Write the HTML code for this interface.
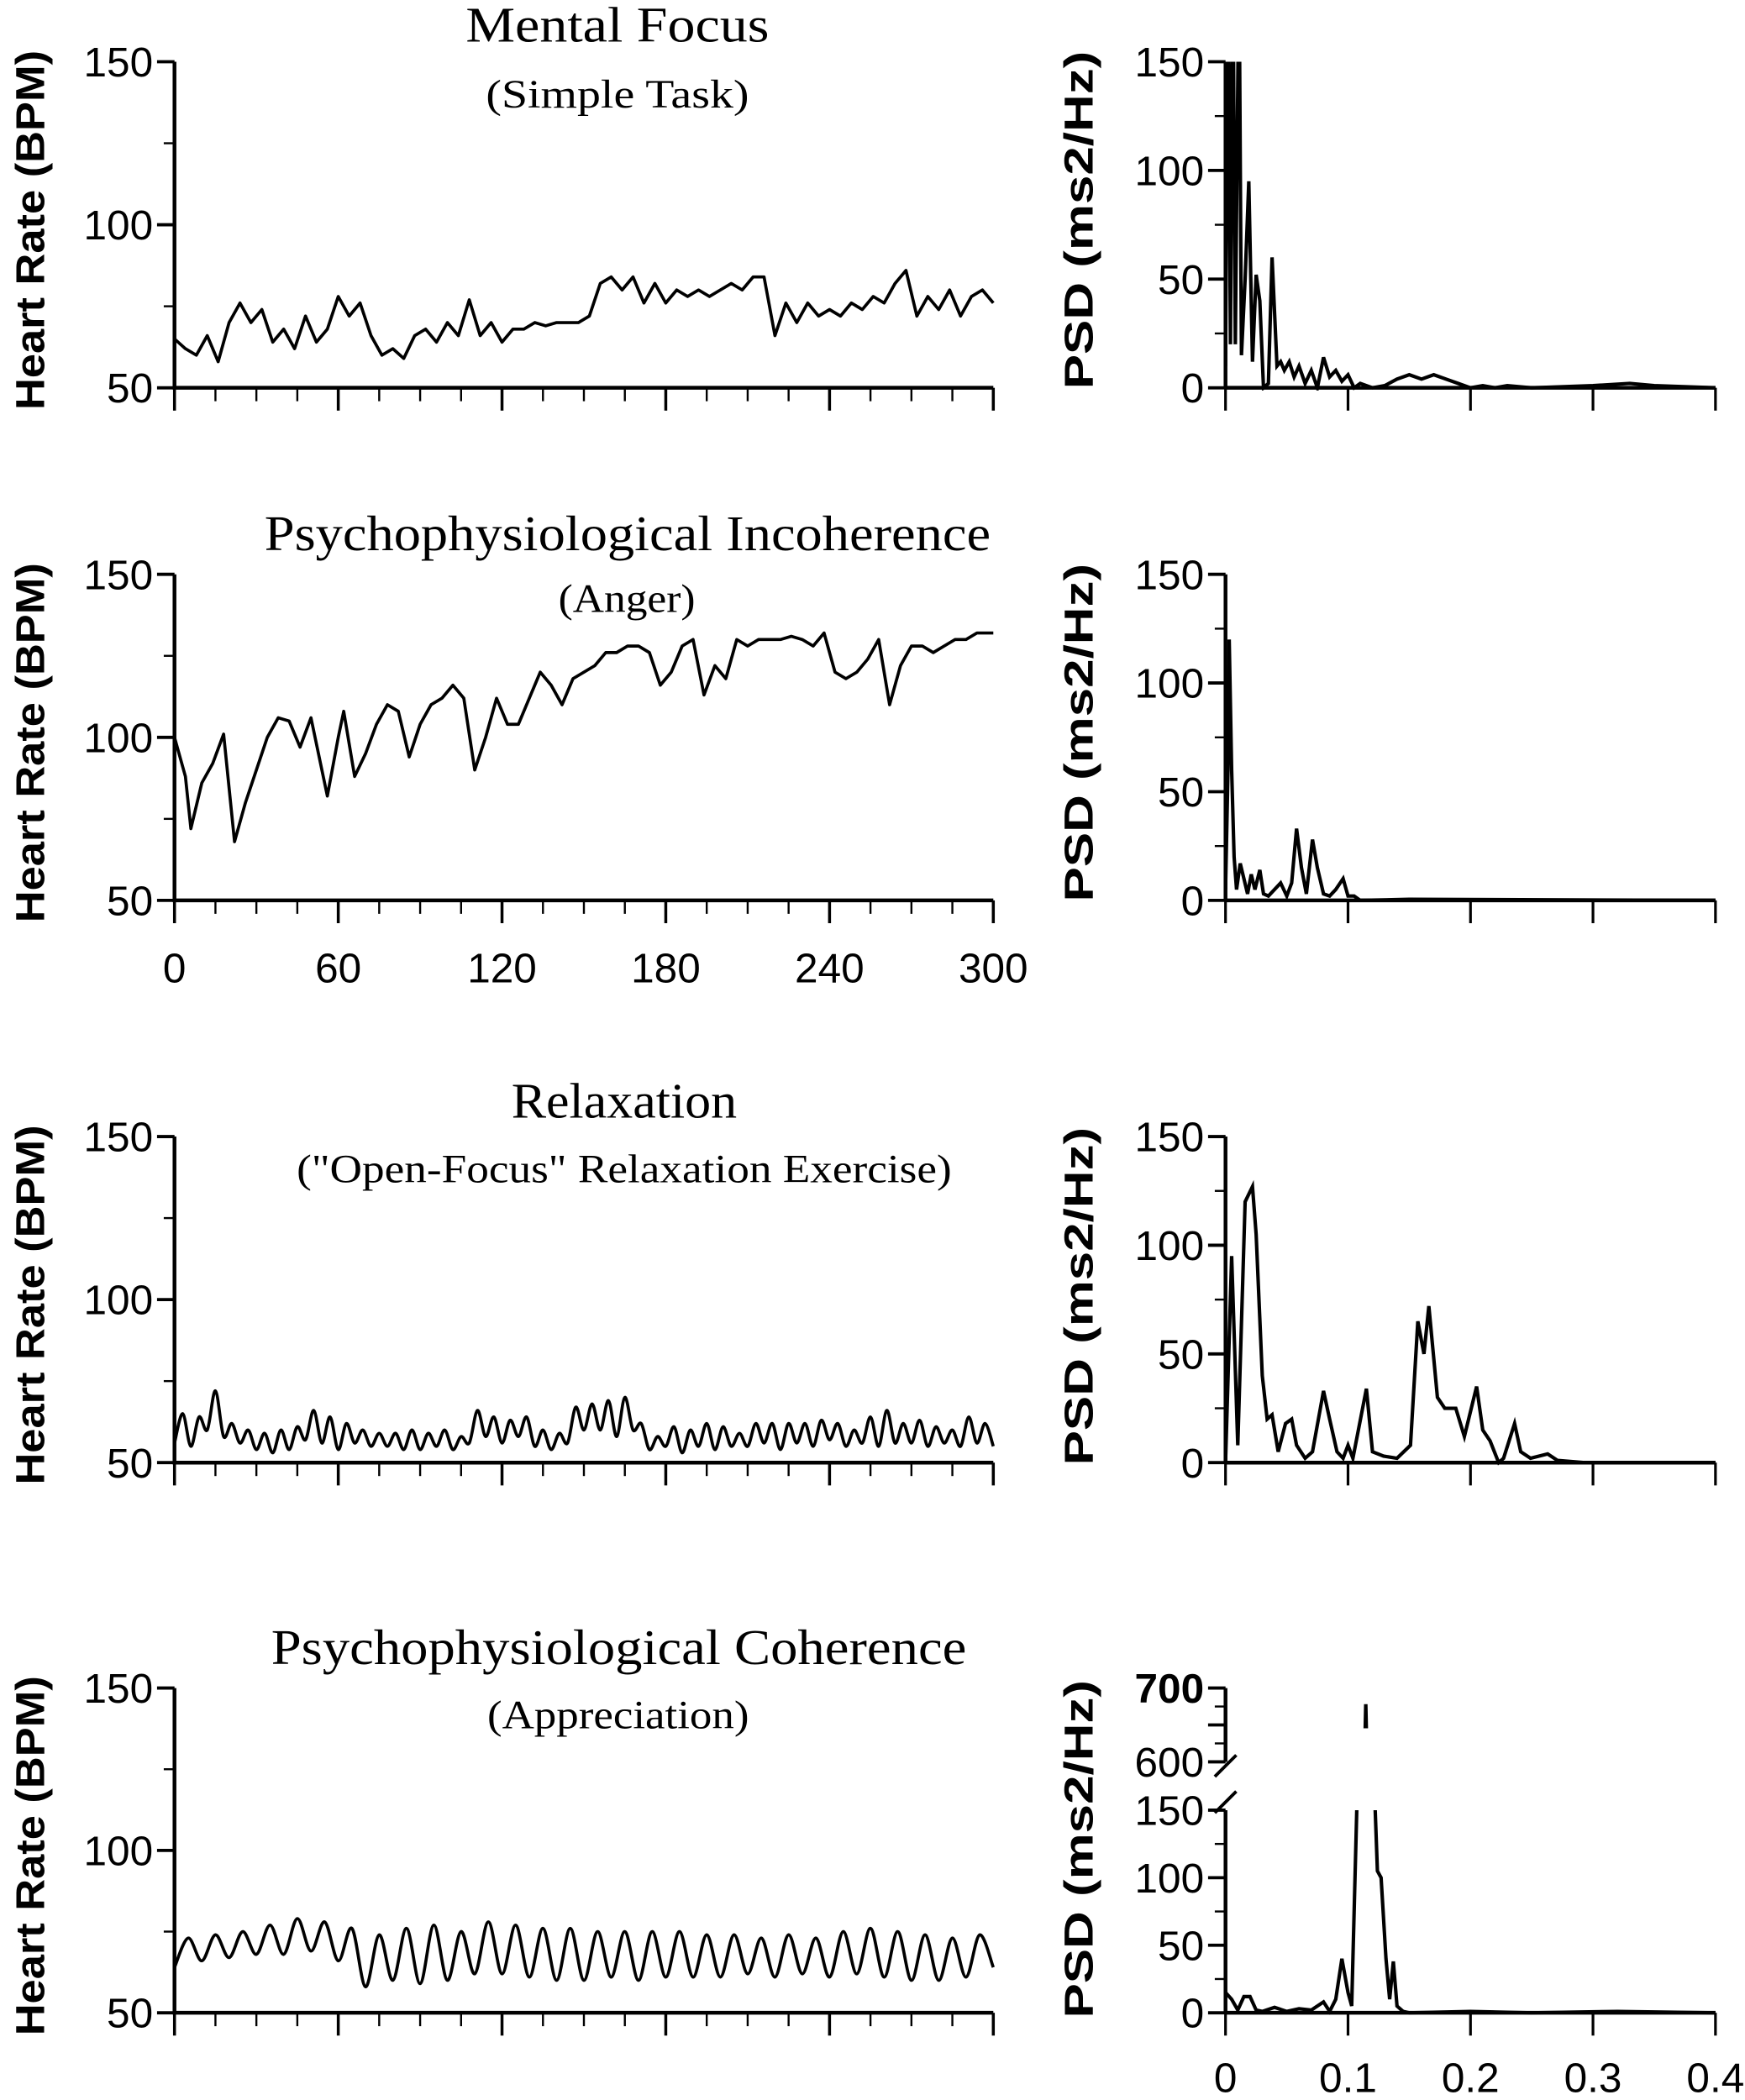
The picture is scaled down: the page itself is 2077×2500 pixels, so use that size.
<!DOCTYPE html>
<html><head><meta charset="utf-8"><style>
html,body{margin:0;padding:0;background:#fff;}
svg{display:block;}
</style></head><body>
<svg id="fig" xmlns="http://www.w3.org/2000/svg" width="2077" height="2500" viewBox="0 0 1300 1565" preserveAspectRatio="none">
<rect x="0" y="0" width="1300" height="1565" fill="#fff"/>
</svg>
<script>
// ---------- DATA ----------
const hrTicks = [50, 100, 150];
const timeTickLabels = ["0", "60", "120", "180", "240", "300"];
const psdTicks = [0, 50, 100, 150];
const freqTickLabels = ["0", "0.1", "0.2", "0.3", "0.4"];
const upperTicks = [600, 700];

const hrFocusTimes = [0,4,8,12,16,20,24,28,32,36,40,44,48,52,56,60,64,68,72,76,80,84,88,92,96,100,104,108,112,116,120,124,128,132,136,140,144,148,152,156,160,164,168,172,176,180,184,188,192,196,200,204,208,212,216,220,224,228,232,236,240,244,248,252,256,260,264,268,272,276,280,284,288,292,296,300];
const hrFocus = [65,62,60,66,58,70,76,70,74,64,68,62,72,64,68,78,72,76,66,60,62,59,66,68,64,70,66,77,66,70,64,68,68,70,69,70,70,70,72,82,84,80,84,76,82,76,80,78,80,78,80,82,80,84,84,66,76,70,76,72,74,72,76,74,78,76,82,86,72,78,74,80,72,78,80,76];

const hrAngerTimes = [0,4,6,10,14,18,22,26,30,34,38,42,46,50,54,56,60,62,66,70,74,78,82,86,90,94,98,102,106,110,114,118,122,126,130,134,138,142,146,150,154,158,162,166,170,174,178,182,186,190,194,198,202,206,210,214,218,222,226,230,234,238,242,246,250,254,258,262,266,270,274,278,282,286,290,294,298,300];
const hrAnger = [100,88,72,86,92,101,68,80,90,100,106,105,97,106,90,82,100,108,88,95,104,110,108,94,104,110,112,116,112,90,100,112,104,104,112,120,116,110,118,120,122,126,126,128,128,126,116,120,128,130,113,122,118,130,128,130,130,130,131,130,128,132,120,118,120,124,130,110,122,128,128,126,128,130,130,132,132,132];

const hrRelax = [56,65,55,64,60,72,58,62,56,60,54,59,53,60,54,61,57,66,56,64,54,62,56,60,55,59,55,59,54,60,54,59,55,60,54,58,56,66,58,64,56,63,58,64,55,60,54,59,56,67,60,68,60,69,58,70,60,62,54,58,55,61,53,60,55,62,54,61,55,59,55,62,56,62,54,62,56,62,55,63,57,62,55,60,56,64,55,66,56,62,56,63,55,61,56,60,55,64,56,62,55];

const hrCoh = [64,73,66,74,67,75,68,77,68,79,69,78,66,76,58,74,60,76,59,77,60,75,62,78,62,77,61,76,60,76,60,75,61,75,60,75,61,75,61,74,61,74,62,73,61,74,62,73,61,75,62,76,61,75,60,74,60,73,61,74,64];

const psdFocusF = [0,0.002,0.004,0.006,0.008,0.011,0.013,0.016,0.019,0.022,0.025,0.028,0.031,0.035,0.038,0.042,0.045,0.048,0.052,0.056,0.06,0.065,0.07,0.075,0.08,0.085,0.09,0.095,0.1,0.105,0.11,0.12,0.13,0.14,0.15,0.16,0.17,0.18,0.19,0.2,0.21,0.22,0.23,0.25,0.3,0.33,0.35,0.4];
const psdFocus = [10,200,20,200,20,200,15,50,95,12,52,40,0,2,60,10,12,8,12,5,10,2,8,0,14,5,8,3,6,0,2,0,1,4,6,4,6,4,2,0,1,0,1,0,1,2,1,0];

const psdAngerF = [0,0.002,0.003,0.005,0.007,0.009,0.012,0.015,0.018,0.021,0.024,0.028,0.031,0.035,0.04,0.045,0.05,0.054,0.058,0.062,0.066,0.071,0.075,0.08,0.085,0.09,0.096,0.1,0.105,0.11,0.15,0.4];
const psdAnger = [5,60,120,60,20,5,17,10,3,12,5,14,3,2,5,8,2,8,33,15,3,28,15,3,2,5,10,2,2,0,0.5,0];

const psdRelaxF = [0,0.005,0.01,0.016,0.022,0.025,0.03,0.034,0.038,0.043,0.049,0.054,0.058,0.065,0.071,0.08,0.085,0.091,0.096,0.1,0.104,0.115,0.12,0.129,0.14,0.151,0.157,0.162,0.166,0.173,0.179,0.188,0.195,0.205,0.21,0.216,0.223,0.227,0.236,0.241,0.249,0.263,0.271,0.293,0.4];
const psdRelax = [0,95,8,120,127,105,40,20,22,5,18,20,8,2,5,33,20,5,2,8,2,34,5,3,2,8,65,50,72,30,25,25,12,35,15,10,0,2,18,5,2,4,1,0,0];

const psdCohF = [0,0.005,0.01,0.015,0.02,0.025,0.03,0.04,0.05,0.06,0.07,0.08,0.085,0.09,0.095,0.1,0.103,0.108,0.1145,0.121,0.124,0.127,0.131,0.134,0.137,0.14,0.145,0.15,0.2,0.25,0.32,0.4];
const psdCoh = [15,10,2,12,12,2,1,4,1,3,2,8,1,10,40,15,5,180,680,180,105,100,40,10,38,5,1,0,1,0,1,0];

// ---------- LAYOUT ----------
const svg = document.getElementById('fig');
const NS = 'http://www.w3.org/2000/svg';
const LX0 = 130, LX1 = 740;
const RX0 = 913, RX1 = 1278;
const rows = [{top:46,bot:289},{top:428,bot:671},{top:847,bot:1090},{top:1258,bot:1500}];
const TICKFONT = 31;

function el(tag, attrs, parent){
  const e = document.createElementNS(NS, tag);
  for (const k in attrs) e.setAttribute(k, attrs[k]);
  (parent||svg).appendChild(e);
  return e;
}
function txt(s, attrs, parent){ const t = el('text', attrs, parent); t.textContent = s; return t; }

const xTime = t => LX0 + (t/300)*(LX1-LX0);
const xFreq = f => RX0 + (f/0.4)*(RX1-RX0);
function yHR(r){ return v => rows[r].bot - (v-50)/100*(rows[r].bot-rows[r].top); }
function yPSD(r, top){ const t = top===undefined?rows[r].top:top; return v => rows[r].bot - v/150*(rows[r].bot-t); }

function catmull(pts){
  let d = 'M'+pts[0][0].toFixed(2)+','+pts[0][1].toFixed(2);
  for (let i=0;i<pts.length-1;i++){
    const p0=pts[Math.max(0,i-1)],p1=pts[i],p2=pts[i+1],p3=pts[Math.min(pts.length-1,i+2)];
    const c1=[p1[0]+(p2[0]-p0[0])/6,p1[1]+(p2[1]-p0[1])/6];
    const c2=[p2[0]-(p3[0]-p1[0])/6,p2[1]-(p3[1]-p1[1])/6];
    d+=' C'+c1[0].toFixed(2)+','+c1[1].toFixed(2)+' '+c2[0].toFixed(2)+','+c2[1].toFixed(2)+' '+p2[0].toFixed(2)+','+p2[1].toFixed(2);
  }
  return d;
}

const defs = el('defs', {});

function leftAxes(r, g, showLabels){
  const yb = rows[r].bot, yt = rows[r].top, ys = yHR(r);
  const ax = el('path', {d:`M${LX0},${yt} L${LX0},${yb} L${LX1},${yb}`, fill:'none', stroke:'#000', 'stroke-width':2.8}, g);
   
  for (let v=50; v<=150; v+=25){
    const major = (v%50===0);
    const tk = el('line',{x1:LX0-(major?13:8),x2:LX0,y1:ys(v),y2:ys(v),stroke:'#000','stroke-width':major?2.4:1.5}, g);
     
  }
  hrTicks.forEach(v=>{
    const t = txt(String(v),{x:114,y:ys(v)+11,'font-family':'Liberation Sans, sans-serif','font-size':TICKFONT,'text-anchor':'end',fill:'#000'}, g);
     
  });
  for (let t=0; t<=300; t+=15){
    const major = (t%60===0);
    const tk = el('line',{x1:xTime(t),x2:xTime(t),y1:yb,y2:yb+(major?17:10),stroke:'#000','stroke-width':major?2.2:1.5}, g);
     
  }
  if (showLabels){
    timeTickLabels.forEach((s,i)=>{
      const t = txt(s,{x:xTime(i*60),y:yb+61,'font-family':'Liberation Sans, sans-serif','font-size':TICKFONT,'text-anchor':'middle',fill:'#000'}, g);
       
    });
  }
  const cy = (yt+yb)/2+4;
  const yl = txt('Heart Rate (BPM)',{x:0,y:0,transform:`translate(33,${cy}) rotate(-90)`,'font-family':'Liberation Sans, sans-serif','font-size':30,'font-weight':'bold','text-anchor':'middle',textLength:268,lengthAdjust:'spacingAndGlyphs',fill:'#000'}, g);
   
}

function rightXAxis(r, g, showLabels){
  const yb = rows[r].bot;
  const ax = el('line',{x1:RX0,x2:RX1,y1:yb,y2:yb,stroke:'#000','stroke-width':2.8}, g);
   
  for (let i=0;i<=4;i++){
    const tk = el('line',{x1:xFreq(i*0.1),x2:xFreq(i*0.1),y1:yb,y2:yb+17,stroke:'#000','stroke-width':2}, g);
     
  }
  if (showLabels){
    freqTickLabels.forEach((s,i)=>{
      const t = txt(s,{x:xFreq(i*0.1),y:yb+59,'font-family':'Liberation Sans, sans-serif','font-size':TICKFONT,'text-anchor':'middle',fill:'#000'}, g);
       
    });
  }
}

function rightYAxis(r, g, top){
  const yb = rows[r].bot, ys = yPSD(r, top);
  const ax = el('line',{x1:RX0,x2:RX0,y1:ys(150),y2:yb,stroke:'#000','stroke-width':2.8}, g);
   
  for (let v=0; v<=150; v+=25){
    const major = (v%50===0);
    const tk = el('line',{x1:RX0-(major?13:8),x2:RX0,y1:ys(v),y2:ys(v),stroke:'#000','stroke-width':major?2.4:1.5}, g);
     
  }
  psdTicks.forEach(v=>{
    const t = txt(String(v),{x:897,y:ys(v)+11,'font-family':'Liberation Sans, sans-serif','font-size':TICKFONT,'text-anchor':'end',fill:'#000'}, g);
     
  });
}

function psdTitle(cy, g){
  const yl = txt('PSD (ms2/Hz)',{x:0,y:0,transform:`translate(814,${cy}) rotate(-90)`,'font-family':'Liberation Sans, sans-serif','font-size':30,'font-weight':'bold','text-anchor':'middle',textLength:252,lengthAdjust:'spacingAndGlyphs',fill:'#000'}, g);
   
}

function clip(id, x, y, w, h){
  const c = el('clipPath',{id:id}, defs);
  el('rect',{x:x,y:y,width:w,height:h}, c);
}

function titles(g, main, mx, my, mlen, sub, sx, sy, slen){
  const a = txt(main,{x:mx,y:my,'font-family':'Liberation Serif, serif','font-size':37,textLength:mlen,lengthAdjust:'spacingAndGlyphs',fill:'#000'}, g);
   
  const b = txt(sub,{x:sx,y:sy,'font-family':'Liberation Serif, serif','font-size':30,textLength:slen,lengthAdjust:'spacingAndGlyphs',fill:'#000'}, g);
   
}

function hrLine(g, r, times, vals, smooth, name){
  const ys = yHR(r);
  const pts = vals.map((v,i)=>[xTime(times ? times[i] : i*300/(vals.length-1)), ys(v)]);
  const d = smooth ? catmull(pts) : 'M'+pts.map(p=>p[0].toFixed(2)+','+p[1].toFixed(2)).join(' L');
  const p = el('path',{d:d,fill:'none',stroke:'#000','stroke-width':2.3,'stroke-linejoin':'round'}, g);
   
}

function psdLine(g, freqs, vals, ys, clipId, name){
  const d = 'M'+freqs.map((f,i)=>xFreq(f).toFixed(2)+','+ys(vals[i]).toFixed(2)).join(' L');
  const p = el('path',{d:d,fill:'none',stroke:'#000','stroke-width':2.6,'stroke-linejoin':'miter','clip-path':`url(#${clipId})`}, g);
   
}

// Row 0
let g = el('g',{});  
titles(g,'Mental Focus',347,31,226,'(Simple Task)',362,80,196);
leftAxes(0,g,false);
hrLine(g,0,hrFocusTimes,hrFocus,false,'mental-focus-hr-line');
g = el('g',{});  
rightYAxis(0,g); rightXAxis(0,g,false); psdTitle(164,g);
clip('c0', RX0, rows[0].top, RX1-RX0+5, rows[0].bot-rows[0].top+2);
psdLine(g,psdFocusF,psdFocus,yPSD(0),'c0','mental-focus-psd-line');

// Row 1
g = el('g',{});  
titles(g,'Psychophysiological Incoherence',197,410,541,'(Anger)',416,456,102);
leftAxes(1,g,true);
hrLine(g,1,hrAngerTimes,hrAnger,false,'incoherence-hr-line');
g = el('g',{});  
rightYAxis(1,g); rightXAxis(1,g,false); psdTitle(546,g);
clip('c1', RX0, rows[1].top, RX1-RX0+5, rows[1].bot-rows[1].top+2);
psdLine(g,psdAngerF,psdAnger,yPSD(1),'c1','incoherence-psd-line');

// Row 2
g = el('g',{});  
titles(g,'Relaxation',381,833,168,'("Open-Focus" Relaxation Exercise)',221,881,488);
leftAxes(2,g,false);
hrLine(g,2,null,hrRelax,true,'relaxation-hr-line');
g = el('g',{});  
rightYAxis(2,g); rightXAxis(2,g,false); psdTitle(966,g);
clip('c2', RX0, rows[2].top, RX1-RX0+5, rows[2].bot-rows[2].top+2);
psdLine(g,psdRelaxF,psdRelax,yPSD(2),'c2','relaxation-psd-line');

// Row 3
g = el('g',{});  
titles(g,'Psychophysiological Coherence',202,1240,518,'(Appreciation)',363,1288,195);
leftAxes(3,g,false);
hrLine(g,3,null,hrCoh,true,'coherence-hr-line');

g = el('g',{});  
const lowTop = 1349;
rightYAxis(3,g,lowTop); rightXAxis(3,g,true); psdTitle(1378,g);
clip('c3', RX0, lowTop, RX1-RX0+5, rows[3].bot-lowTop+2);
const ysLow = yPSD(3, lowTop);
psdLine(g,psdCohF,psdCoh,ysLow,'c3','coherence-psd-line');
const uTop = 1258, uBot = 1313;
const ysUp = v => uBot - (v-600)/100*(uBot-uTop);
const ua = el('line',{x1:RX0,x2:RX0,y1:uTop,y2:uBot,stroke:'#000','stroke-width':2.8}, g);
 
for (let v=600; v<=700; v+=25){
  const major = (v%50===0);
  const tk = el('line',{x1:RX0-(major?13:8),x2:RX0,y1:ysUp(v),y2:ysUp(v),stroke:'#000','stroke-width':major?2.4:1.5}, g);
   
}
upperTicks.forEach(v=>{
  const t = txt(String(v),{x:897,y:ysUp(v)+11,'font-family':'Liberation Sans, sans-serif','font-size':TICKFONT,'font-weight':v===700?'bold':'normal','text-anchor':'end',fill:'#000'}, g);
   
});
clip('c3u', RX0, 1270, RX1-RX0, 18);
psdLine(g,psdCohF,psdCoh,ysUp,'c3u','coherence-psd-peak-line');
[[1316],[1343]].forEach(a=>{
  const b = el('line',{x1:RX0-8,y1:a[0]+8,x2:RX0+8,y2:a[0]-8,stroke:'#000','stroke-width':2.4}, g);
   
});
</script>
</body></html>
